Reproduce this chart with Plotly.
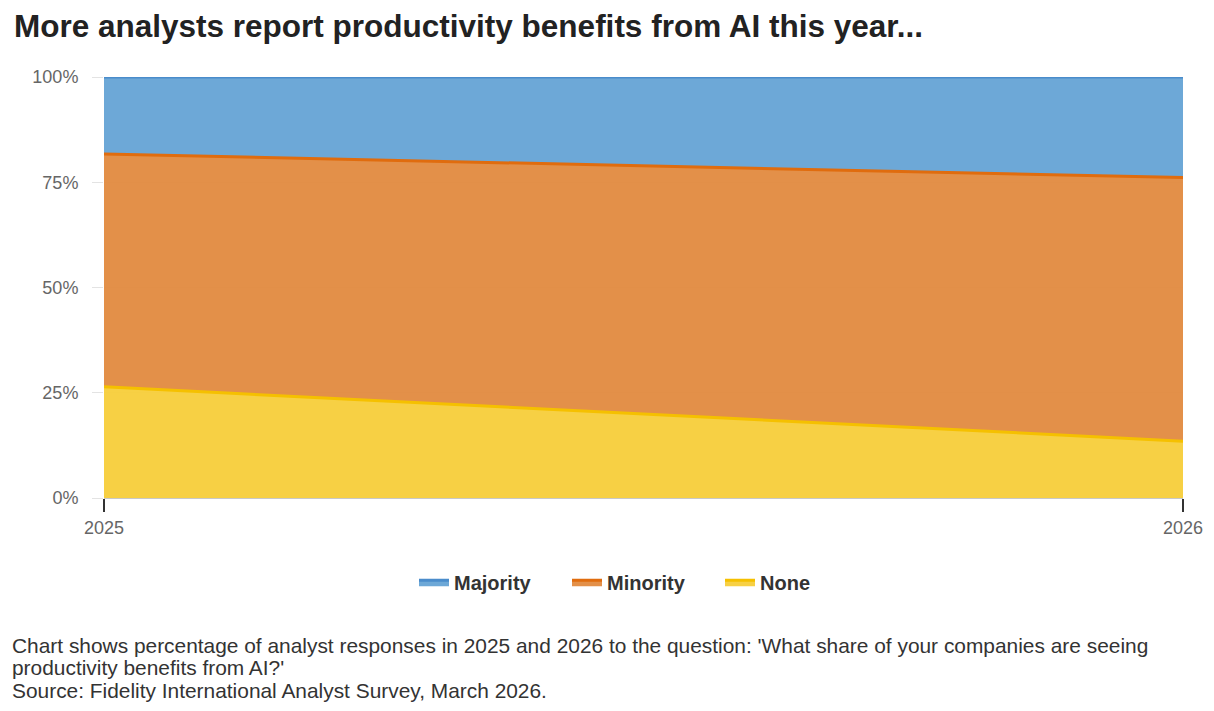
import plotly.graph_objects as go

# Survey answers (% of analysts)
years = [2025, 2026]
none_share = [26.4, 13.5]
minority_share = [55.3, 62.6]
majority_share = [18.3, 23.9]

y_ticks = [0, 25, 50, 75, 100]
y_labels = ["0%", "25%", "50%", "75%", "100%"]

footnote_lines = [
    "Chart shows percentage of analyst responses in 2025 and 2026 to the question: 'What share of your companies are seeing",
    "productivity benefits from AI?'",
    "Source: Fidelity International Analyst Survey, March 2026.",
]

series = [
    # (name, values, fill colour, line colour)
    ("None", none_share, "rgba(247,206,62,0.97)", "#f5c000"),
    ("Minority", minority_share, "rgba(226,140,67,0.97)", "#e06c0e"),
    ("Majority", majority_share, "rgba(106,166,214,0.98)", "#4a8ccb"),
]

fig = go.Figure()
for name, vals, fill, line in series:
    fig.add_trace(
        go.Scatter(
            x=years,
            y=vals,
            name=name,
            mode="lines",
            stackgroup="one",
            fillcolor=fill,
            line=dict(color=line, width=3),
            hovertemplate="%{y:.1f}%<extra>" + name + "</extra>",
        )
    )

# page has an 8px body margin, so size the figure to fit inside the window
W, H = 1198, 695

fig.update_layout(
    width=W,
    height=H,
    paper_bgcolor="white",
    plot_bgcolor="white",
    font=dict(family="Liberation Sans, Arial, sans-serif", color="#333333"),
    title=dict(
        text="<b>More analysts report productivity benefits from AI this year...</b>",
        x=6 / W,
        xanchor="left",
        y=1 - 18 / H,
        yanchor="middle",
        font=dict(size=31.5, color="#222222"),
    ),
    margin=dict(l=96, r=23, t=69, b=205),
    showlegend=True,
    legend=dict(
        orientation="h",
        traceorder="reversed",
        x=0.5,
        xanchor="center",
        y=-0.2,
        yanchor="middle",
        font=dict(size=20, color="#333333", weight="bold"),
        entrywidth=108,
    ),
    xaxis=dict(
        range=[2025, 2026],
        tickvals=years,
        ticktext=[str(y) for y in years],
        showgrid=False,
        showline=True,
        linecolor="#c8c8c8",
        linewidth=1,
        ticks="outside",
        ticklen=13,
        tickcolor="#333333",
        tickwidth=2,
        tickfont=dict(size=18, color="#666666"),
        zeroline=False,
        automargin=False,
    ),
    yaxis=dict(
        range=[0, 100],
        tickvals=y_ticks,
        ticktext=y_labels,
        showgrid=True,
        gridcolor="#e3e3e3",
        gridwidth=1,
        zeroline=False,
        tickfont=dict(size=18, color="#666666"),
        ticks="outside",
        ticklen=11,
        tickcolor="#e3e3e3",
        ticklabelstandoff=10,
        automargin=False,
    ),
)

# footnote lines, one annotation each so the line spacing stays tight
for i, line_text in enumerate(footnote_lines):
    fig.add_annotation(
        text=line_text,
        xref="paper",
        yref="paper",
        x=(10 - 104) / 1079,
        y=(498 - (645 + 22.5 * i)) / 421,
        xanchor="left",
        yanchor="middle",
        align="left",
        showarrow=False,
        font=dict(size=20.9, color="#333333"),
    )

fig.write_html("out.html")
